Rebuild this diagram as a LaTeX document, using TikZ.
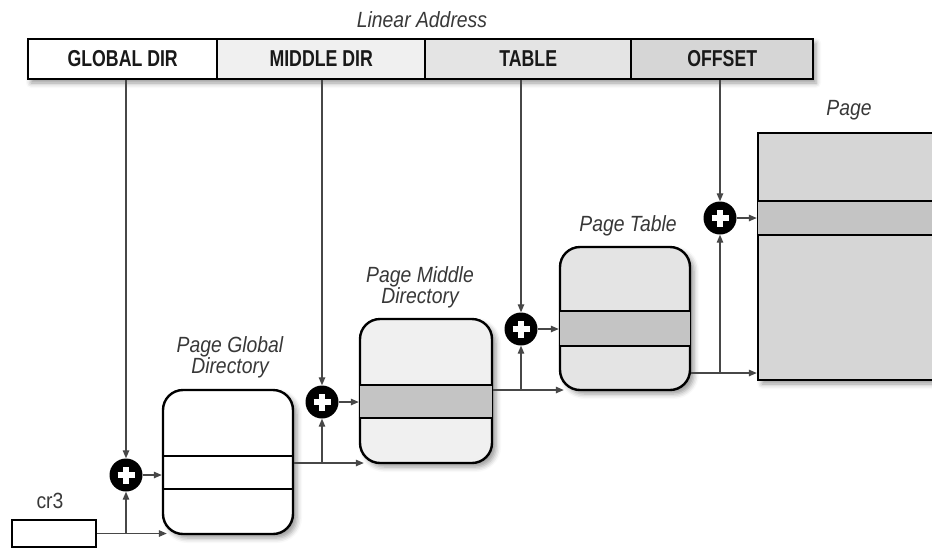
\documentclass[tikz,border=0pt]{standalone}
\usepackage{fontspec}
\newfontfamily\barfont{Liberation Sans}[FakeStretch=0.77]
\newfontfamily\labfont{Liberation Sans}[FakeStretch=0.88]
\usetikzlibrary{arrows.meta,shadows.blur,calc}
\definecolor{segB}{HTML}{F0F0F0}
\definecolor{segC}{HTML}{E4E4E4}
\definecolor{segD}{HTML}{D6D6D6}
\definecolor{pmdfill}{HTML}{F0F0F0}
\definecolor{ptfill}{HTML}{E4E4E4}
\definecolor{pagefill}{HTML}{D6D6D6}
\definecolor{stripe}{HTML}{C4C4C4}
\begin{document}
\begin{tikzpicture}[x=1pt,y=-1pt,
  shad/.style={blur shadow={shadow xshift=4pt,shadow yshift=-4pt,shadow blur radius=5pt,shadow opacity=40}},
  seg/.style={draw,line width=2.4pt,minimum height=40pt,inner sep=0pt,anchor=west,
    font=\barfont\bfseries\fontsize{23}{23}\selectfont,text=black!90},
  lab/.style={font=\labfont\itshape\fontsize{22}{21}\selectfont,text=black!78,align=center,inner sep=0pt},
  uplab/.style={font=\labfont\fontsize{22}{21}\selectfont,text=black!78,inner sep=0pt},
  tbl/.style={draw,line width=2.4pt,rounded corners=20pt,inner sep=0pt,shad},
  sline/.style={line width=2.4pt},
  plusnode/.style={circle,fill=black,minimum size=33pt,inner sep=0pt,
    path picture={\draw[white,line width=5.5pt]
      ([xshift=-8.5pt]path picture bounding box.center) -- ([xshift=8.5pt]path picture bounding box.center)
      ([yshift=-8.5pt]path picture bounding box.center) -- ([yshift=8.5pt]path picture bounding box.center);}},
  conn/.style={draw=black!72,line width=1.3pt},
  arr/.style={conn,-{Triangle[length=8pt,width=6.5pt]}}
]
\useasboundingbox (0,0) rectangle (932,550);
\clip (0,0) rectangle (932,550);

% linear address bar
\path[shad,fill=white] (27,39) rectangle (812,79);
\node[seg,minimum width=189pt,fill=white] (gd) at (27,59) {GLOBAL DIR};
\node[seg,minimum width=208pt,fill=segB] (md) at (216,59) {MIDDLE DIR};
\node[seg,minimum width=206pt,fill=segC] (tb) at (424,59) {TABLE};
\node[seg,minimum width=182pt,fill=segD] (off) at (630,59) {OFFSET};
\node[lab] (lin) at (422,20) {Linear Address};

% cr3
\node[draw,line width=2.4pt,minimum width=84pt,minimum height=27pt,inner sep=0pt,fill=white] (cr3) at (54,533.5) {};
\node[uplab] (cr3l) at (50,501) {cr3};

% page global directory
\node[tbl,minimum width=130pt,minimum height=144pt,fill=white] (pgd) at (228,462) {};
\draw[sline] ($(pgd.west)+(0,-6)$) -- ($(pgd.east)+(0,-6)$);
\draw[sline] ($(pgd.west)+(0,27)$) -- ($(pgd.east)+(0,27)$);
\node[lab] (pgdl) at (230,357) {Page Global\\Directory};

% page middle directory
\node[tbl,minimum width=132pt,minimum height=144pt,fill=pmdfill] (pmd) at (426,391) {};
\fill[stripe] ($(pmd.west)+(1.2,-6)$) rectangle ($(pmd.east)+(-1.2,27)$);
\draw[sline] ($(pmd.west)+(0,-6)$) -- ($(pmd.east)+(0,-6)$);
\draw[sline] ($(pmd.west)+(0,27)$) -- ($(pmd.east)+(0,27)$);
\node[lab] (pmdl) at (420,287) {Page Middle\\Directory};

% page table
\node[tbl,minimum width=130pt,minimum height=143pt,fill=ptfill] (pt) at (625,318.5) {};
\fill[stripe] ($(pt.west)+(1.2,-7.5)$) rectangle ($(pt.east)+(-1.2,27.5)$);
\draw[sline] ($(pt.west)+(0,-7.5)$) -- ($(pt.east)+(0,-7.5)$);
\draw[sline] ($(pt.west)+(0,27.5)$) -- ($(pt.east)+(0,27.5)$);
\node[lab] (ptl) at (628,226) {Page Table};

% page
\node[draw,line width=2.4pt,inner sep=0pt,shad,minimum width=192pt,minimum height=247pt,fill=pagefill] (page) at (854,256.5) {};
\fill[stripe] ($(page.west)+(1.2,-55.5)$) rectangle ($(page.east)+(-1.2,-21.5)$);
\draw[sline] ($(page.west)+(0,-55.5)$) -- ($(page.east)+(0,-55.5)$);
\draw[sline] ($(page.west)+(0,-21.5)$) -- ($(page.east)+(0,-21.5)$);
\node[lab] (pagel) at (849,110) {Page};

% adders
\node[plusnode] (c1) at (126,475) {};
\node[plusnode] (c2) at (322,402) {};
\node[plusnode] (c3) at (521,329) {};
\node[plusnode] (c4) at (720,218) {};

% from linear address fields
\draw[arr] (c1 |- gd.south) -- (c1.north);
\draw[arr] (c2 |- md.south) -- (c2.north);
\draw[arr] (c3 |- tb.south) -- (c3.north);
\draw[arr] (c4 |- off.south) -- (c4.north);

% cr3 -> pgd
\coordinate (o0) at (cr3.east);
\draw[arr] (o0) -- ($(o0 -| pgd.west)+(5,0)$);
\draw[arr] (o0 -| c1) -- (c1.south);
\draw[arr] (c1.east) -- (c1.east -| pgd.west);

% pgd -> pmd
\coordinate (o1) at ($(pgd.east)+(0,1)$);
\draw[arr] (o1) -- ($(o1 -| pmd.west)+(5,0)$);
\draw[arr] (o1 -| c2) -- (c2.south);
\draw[arr] (c2.east) -- (c2.east -| pmd.west);

% pmd -> pt
\coordinate (o2) at ($(pmd.east)+(0,-1)$);
\draw[arr] (o2) -- ($(o2 -| pt.west)+(5,0)$);
\draw[arr] (o2 -| c3) -- (c3.south);
\draw[arr] (c3.east) -- (c3.east -| pt.west);

% pt -> page
\coordinate (o3) at ($(pt.east)+(0,54.5)$);
\draw[arr] (o3) -- (o3 -| page.west);
\draw[arr] (o3 -| c4) -- (c4.south);
\draw[arr] (c4.east) -- (c4.east -| page.west);
\end{tikzpicture}
\end{document}
